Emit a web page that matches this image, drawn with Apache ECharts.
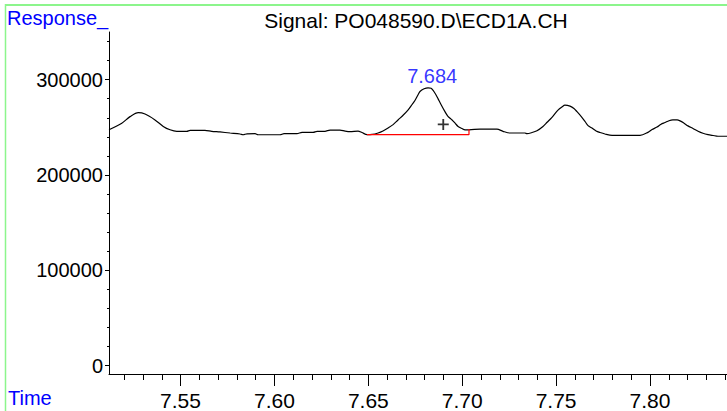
<!DOCTYPE html>
<html>
<head>
<meta charset="utf-8">
<script src="https://cdn.jsdelivr.net/npm/echarts@6/dist/echarts.min.js"></script>
<style>
html,body{margin:0;padding:0;background:#fff;}
#chart{width:727px;height:411px;}
</style>
</head>
<body>
<div id="chart"></div>
<script>
// ---- data ----
const times = [7.5119,7.5187,7.5231,7.5275,7.5311,7.5364,7.5408,7.5444,7.5480,7.5533,7.5551,7.5630,7.5666,7.5710,7.5764,7.5817,7.5833,7.5854,7.5897,7.5913,7.6030,7.6051,7.6120,7.6147,7.6206,7.6227,7.6269,7.6296,7.6349,7.6376,7.6403,7.6445,7.6466,7.6493,7.6520,7.6552,7.6578,7.6605,7.6632,7.6658,7.6685,7.6711,7.6733,7.6749,7.6765,7.6775,7.6797,7.6818,7.6834,7.6845,7.6860,7.6871,7.6887,7.6908,7.6924,7.6946,7.6962,7.6978,7.6999,7.7015,7.7036,7.7095,7.7185,7.7217,7.7255,7.7334,7.7345,7.7372,7.7398,7.7430,7.7452,7.7478,7.7510,7.7531,7.7547,7.7574,7.7595,7.7611,7.7633,7.7654,7.7670,7.7691,7.7713,7.7734,7.7760,7.7798,7.7947,7.7989,7.8011,7.8037,7.8059,7.8080,7.8101,7.8122,7.8144,7.8160,7.8181,7.8202,7.8229,7.8256,7.8282,7.8309,7.8336,7.8362,7.8410];
const responses = [247400,254300,261200,265400,263900,257700,250900,247400,245800,245800,246800,246800,245800,245100,244000,243000,242200,243200,243300,242200,242200,243300,243300,244700,244700,245800,245800,247100,247100,246000,245400,246000,244500,242300,242500,244000,246100,249200,252800,257700,262600,268000,273900,278400,284200,287600,290400,291400,290900,288700,284200,280100,273900,266400,261500,257700,254300,250900,248700,247400,247400,248100,248100,245800,244000,244000,243300,244500,246400,250900,255300,260500,268000,271300,273200,272200,269800,266400,261500,256100,251700,249200,246100,244500,243000,241600,241600,244700,247600,250200,253300,255000,256900,257700,257700,256700,254300,251500,248700,245800,243700,242300,241400,240600,240600];

const peakTime = 7.684;
const peakResponse = 291400;
const peakLabel = '7.684';
const baselineTimes = [7.6493, 7.7036, 7.7036];
const baselineValues = [242300, 242300, 248100];
const markerTime = 7.6899;
const markerResponse = 253000;

const xMajorTicks = [7.55, 7.60, 7.65, 7.70, 7.75, 7.80];
const xMinorTicks = [7.52,7.53,7.54,7.56,7.57,7.58,7.59,7.61,7.62,7.63,7.64,7.66,7.67,7.68,7.69,7.71,7.72,7.73,7.74,7.76,7.77,7.78,7.79,7.81,7.82,7.83,7.84];
const yMajorTicks = [0, 100000, 200000, 300000];
const yMinorTicks = [20000,40000,60000,80000,120000,140000,160000,180000,220000,240000,260000,280000,320000,340000];

const titleText = 'Signal: PO048590.D\\ECD1A.CH';
const yName = 'Response_';
const xName = 'Time';

// ---- chart ----
const FONT = '"Liberation Sans", Arial, sans-serif';
const BLUE = '#0000ff';
const chart = echarts.init(document.getElementById('chart'), null, {renderer: 'svg'});
const xRange = {min: 7.5119, max: 7.8410};
const yRange = {min: -8870, max: 350000};

chart.setOption({
  animation: false,
  backgroundColor: '#ffffff',
  grid: {left: 109, right: 0, top: 32, bottom: 31, containLabel: false},
  xAxis: [
    {
      type: 'value', position: 'bottom', min: xRange.min, max: xRange.max,
      axisLine: {show: true, onZero: false, lineStyle: {color: '#000', width: 1}},
      axisTick: {show: true, inside: false, length: 12, customValues: xMajorTicks, lineStyle: {color: '#000'}},
      axisLabel: {show: true, customValues: xMajorTicks, margin: 16, color: '#000', fontSize: 21, fontFamily: FONT,
        formatter: v => v.toFixed(2)},
      splitLine: {show: false}
    },
    {
      type: 'value', position: 'bottom', min: xRange.min, max: xRange.max,
      axisLine: {show: false, onZero: false},
      axisTick: {show: true, inside: false, length: 6, customValues: xMinorTicks, lineStyle: {color: '#000'}},
      axisLabel: {show: false},
      splitLine: {show: false}
    }
  ],
  yAxis: [
    {
      type: 'value', position: 'left', min: yRange.min, max: yRange.max,
      axisLine: {show: true, onZero: false, lineStyle: {color: '#000', width: 1}},
      axisTick: {show: true, inside: false, length: 4, customValues: yMajorTicks, lineStyle: {color: '#000'}},
      axisLabel: {show: true, customValues: yMajorTicks, margin: 6, color: '#000', fontSize: 20, fontFamily: FONT,
        formatter: v => String(Math.round(v))},
      splitLine: {show: false}
    },
    {
      type: 'value', position: 'left', min: yRange.min, max: yRange.max,
      axisLine: {show: false, onZero: false},
      axisTick: {show: true, inside: false, length: 2, customValues: yMinorTicks, lineStyle: {color: '#000'}},
      axisLabel: {show: false},
      splitLine: {show: false}
    }
  ],
  series: [
    {
      type: 'line', xAxisIndex: 0, yAxisIndex: 0,
      data: times.map((t, i) => [t, responses[i]]),
      showSymbol: false, symbol: 'none', smooth: 0.3,
      lineStyle: {color: '#000', width: 1.2}
    },
    {
      type: 'line', xAxisIndex: 0, yAxisIndex: 0,
      data: baselineTimes.map((t, i) => [t, baselineValues[i]]),
      symbol: 'none',
      lineStyle: {color: '#ff0000', width: 1.2}
    },
    {
      type: 'scatter', xAxisIndex: 0, yAxisIndex: 0,
      data: [[peakTime, peakResponse]],
      symbolSize: 0,
      label: {show: true, position: 'top', distance: 2, formatter: peakLabel,
        color: BLUE, fontSize: 20, fontFamily: FONT}
    },
    {
      type: 'scatter', xAxisIndex: 0, yAxisIndex: 0,
      data: [[markerTime, markerResponse]],
      symbol: 'path://M5,0H7V12H5ZM0,5H12V7H0Z', symbolSize: 11,
      itemStyle: {color: '#000'}
    }
  ],
  graphic: [
    {type: 'line', shape: {x1: 5, y1: 5, x2: 727, y2: 5}, style: {stroke: '#8cf58c', lineWidth: 2}},
    {type: 'line', shape: {x1: 5.5, y1: 4, x2: 5.5, y2: 411}, style: {stroke: '#8cf58c', lineWidth: 1.5}},
    {type: 'text', x: 7, y: 8, style: {text: yName, fill: BLUE, font: '20px ' + FONT, textAlign: 'left', textVerticalAlign: 'top'}},
    {type: 'text', x: 8, y: 388, style: {text: xName, fill: BLUE, font: '20px ' + FONT, lineHeight: 20, textAlign: 'left', textVerticalAlign: 'top'}},
    {type: 'text', x: 416, y: 10, style: {text: titleText, fill: '#000', font: '21px ' + FONT, textAlign: 'center', textVerticalAlign: 'top'}}
  ]
});
</script>
</body>
</html>
